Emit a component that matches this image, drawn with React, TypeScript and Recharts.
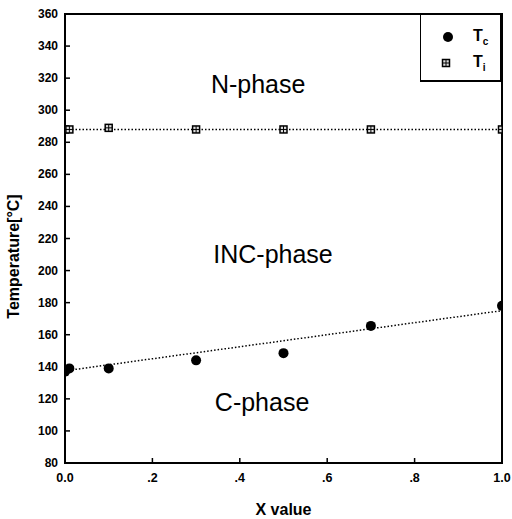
import { ComposedChart, Scatter, Line, XAxis, YAxis, ReferenceArea, ReferenceDot, Legend } from 'recharts'

const xValues = [0, 0.01, 0.1, 0.3, 0.5, 0.7, 1.0]
const tcValues = [137, 139, 139, 144, 148.5, 165.5, 178]
const tiValues = [288, 288, 289, 288, 288, 288, 288]

const fitX = [0, 1]
const tcFitValues = [137.5, 175]
const tiFitValues = [288, 288]

const xTicks = [0, 0.2, 0.4, 0.6, 0.8, 1]
const yTicks = [80, 100, 120, 140, 160, 180, 200, 220, 240, 260, 280, 300, 320, 340, 360]

const phases = [
  { name: 'N-phase', x: 0.442, y: 316.5 },
  { name: 'INC-phase', x: 0.476, y: 210.5 },
  { name: 'C-phase', x: 0.451, y: 118 },
]

const tcData = xValues.map((x, i) => ({ x, y: tcValues[i] }))
const tiData = xValues.map((x, i) => ({ x, y: tiValues[i] }))
const tcFit = fitX.map((x, i) => ({ x, y: tcFitValues[i] }))
const tiFit = fitX.map((x, i) => ({ x, y: tiFitValues[i] }))

const font = "'Liberation Sans', Arial, sans-serif"

const fmtX = (v: number) => (v === 0 ? '0.0' : v === 1 ? '1.0' : String(v).replace(/^0/, ''))

function YTick(props: any) {
  const { x, y, payload } = props
  return (
    <g>
      <line x1={x + 7} x2={x + 12} y1={y} y2={y} stroke='#000' strokeWidth={1.5} />
      <text x={x} y={y + 4} textAnchor='end' fontSize={12} fontWeight='bold' fontFamily={font} fill='#000'>
        {payload.value}
      </text>
    </g>
  )
}

function XTick(props: any) {
  const { x, y, payload } = props
  return (
    <g>
      <line x1={x} x2={x} y1={y - 9} y2={y - 14} stroke='#000' strokeWidth={1.5} />
      <text x={x} y={y + 10} textAnchor='middle' fontSize={12.5} fontWeight='bold' fontFamily={font} fill='#000'>
        {fmtX(payload.value)}
      </text>
    </g>
  )
}

function YLabel(props: any) {
  const vb = props.viewBox || { y: 14, height: 449 }
  const cy = vb.y + vb.height / 2 + 18
  return (
    <text x={19} y={cy} transform={`rotate(-90, 19, ${cy})`} textAnchor='middle' fontSize={16} fontWeight='bold' fontFamily={font} fill='#000'>
      Temperature[°C]
    </text>
  )
}

function CircleMark(props: any) {
  const { cx, cy } = props
  return <circle cx={cx} cy={cy} r={5} fill='#000' />
}

function SquareMark(props: any) {
  const { cx, cy } = props
  return (
    <g stroke='#000' fill='#ddd'>
      <rect x={cx - 3.5} y={cy - 3.5} width={7} height={7} strokeWidth={1.5} />
      <line x1={cx - 3.5} x2={cx + 3.5} y1={cy} y2={cy} strokeWidth={1} />
      <line x1={cx} x2={cx} y1={cy - 3.5} y2={cy + 3.5} strokeWidth={1} />
    </g>
  )
}

function LegendBox(props: any) {
  const items = (props.payload || []).filter((p: any) => p.type !== 'none')
  return (
    <div
      style={{
        width: 82,
        height: 68,
        boxSizing: 'border-box',
        borderTop: '1.5px solid #000',
        borderLeft: '1.5px solid #000',
        borderRight: '2.5px solid #000',
        borderBottom: '2.5px solid #000',
        background: '#fff',
        fontFamily: font,
        paddingTop: 9,
      }}
    >
      {items.map((item: any) => (
        <div key={item.value} style={{ display: 'flex', alignItems: 'center', height: 26 }}>
          <svg width={52} height={16} style={{ display: 'block' }}>
            {item.value === 'Tc' ? <CircleMark cx={27} cy={8} /> : <SquareMark cx={25} cy={8} />}
          </svg>
          <span style={{ fontSize: 16, fontWeight: 'bold', color: '#000' }}>
            T<sub style={{ fontSize: 10 }}>{item.value.slice(1)}</sub>
          </span>
        </div>
      ))}
    </div>
  )
}

export default function App() {
  return (
    <div style={{ position: 'absolute', left: 0, top: 0, width: 512, height: 519, background: '#fff' }}>
      <ComposedChart width={512} height={519} margin={{ top: 14, right: 10, left: 0, bottom: 0 }}>
        <XAxis
          type='number'
          dataKey='x'
          domain={[0, 1]}
          ticks={xTicks}
          allowDataOverflow
          axisLine={false}
          tickLine={false}
          tickSize={0}
          tickMargin={9}
          height={56}
          tick={<XTick />}
          label={{ value: 'X value', position: 'insideBottom', offset: 4, fontSize: 16, fontWeight: 'bold', fontFamily: font, fill: '#000' }}
        />
        <YAxis
          type='number'
          dataKey='y'
          domain={[80, 360]}
          ticks={yTicks}
          allowDataOverflow
          axisLine={false}
          tickLine={false}
          tickSize={0}
          tickMargin={7}
          width={65}
          tick={<YTick />}
          label={<YLabel />}
        />
        <ReferenceArea x1={0} x2={1} y1={80} y2={360} fill='none' stroke='#000' strokeWidth={2} ifOverflow='visible' />
        {phases.map((p) => (
          <ReferenceDot
            key={p.name}
            x={p.x}
            y={p.y}
            r={0}
            fill='none'
            stroke='none'
            label={{ value: p.name, position: 'center', fontSize: 25, fontFamily: font, fill: '#000' }}
          />
        ))}
        <Line data={tcFit} dataKey='y' stroke='#000' strokeWidth={1.5} strokeDasharray='1.5 2' dot={false} legendType='none' isAnimationActive={false} />
        <Line data={tiFit} dataKey='y' stroke='#000' strokeWidth={1.5} strokeDasharray='1.5 2' dot={false} legendType='none' isAnimationActive={false} />
        <Scatter name='Tc' data={tcData} shape={<CircleMark />} isAnimationActive={false} />
        <Scatter name='Ti' data={tiData} shape={<SquareMark />} isAnimationActive={false} />
        <Legend
          layout='horizontal'
          verticalAlign='middle'
          align='center'
          content={<LegendBox />}
          wrapperStyle={{ position: 'absolute', top: 14, left: 420, right: 'auto', bottom: 'auto', width: 82, height: 68 }}
        />
      </ComposedChart>
    </div>
  )
}
